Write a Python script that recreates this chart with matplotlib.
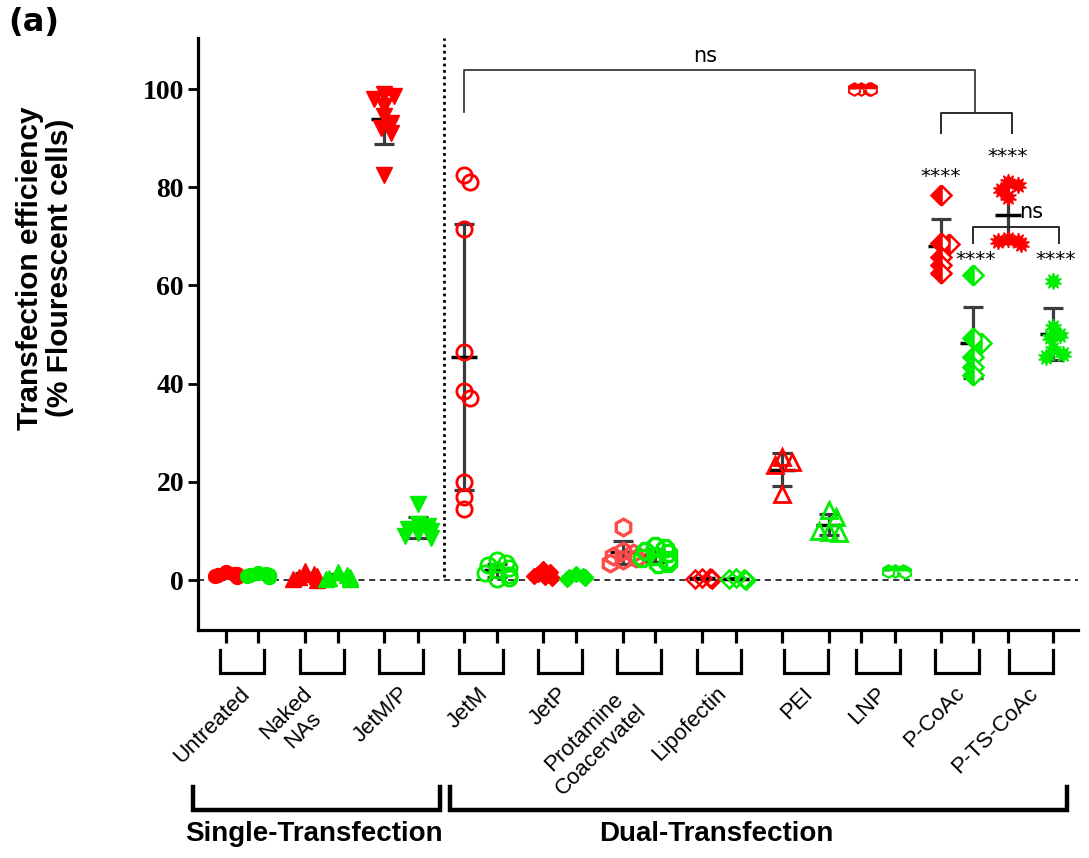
import numpy as np
import matplotlib
matplotlib.use('Agg')
import matplotlib.pyplot as plt
from matplotlib.transforms import blended_transform_factory

# ---------------- data ----------------
groups = ['Untreated', 'Naked\nNAs', 'JetM/P', 'JetM', 'JetP',
          'Protamine\nCoacervatel', 'Lipofectin', 'PEI', 'LNP',
          'P-CoAc', 'P-TS-CoAc']

untreated_red = [1.6, 1.3, 1.1, 1.0, 0.9, 0.8, 1.2, 0.7]
untreated_green = [1.5, 1.2, 1.0, 0.9, 0.8, 1.1, 0.7, 0.6]
naked_red = [1.8, 1.2, 0.6, 0.3, 0.1, 0.8]
naked_green = [1.6, 1.0, 0.5, 0.3, 0.2, 0.7]
jetmp_red = [99, 98.5, 98, 96.5, 94.5, 93, 92, 91, 82.5]
jetmp_green = [15.5, 11.5, 11, 10.5, 10, 9.5, 9, 8.5]
jetm_red = [82.5, 81, 71.5, 46.5, 38.5, 37, 20, 17, 14.5]
jetm_green = [4, 3.5, 3, 2.5, 2, 1.5, 1, 0.5, 0.2]
jetp_red = [2.2, 1.6, 1.2, 0.9, 0.6, 0.4]
jetp_green = [1.3, 0.9, 0.6, 0.4, 0.2, 0.7]
protamine_red = [10.8, 6, 5.5, 5, 4.5, 4, 3.5]
protamine_green = [7, 6.5, 6, 5.5, 5, 4.5, 4, 3.5, 3.2]
lipofectin_red = [0.5, 0.4, 0.3, 0.2]
lipofectin_green = [0.4, 0.3, 0.2, 0.1]
pei_red = [25, 24, 23.5, 17.5]
pei_green = [14.3, 12.8, 9.8, 9.6, 9.9]
lnp_red = [100, 100, 100, 100]
lnp_green = [1.9, 1.8, 1.8, 1.7]
pcoac_red = [78.4, 68.6, 68.4, 65.8, 64.2, 62.5]
pcoac_green = [62.1, 49.3, 48.3, 45.4, 43.4, 41.8]
ptscoac_red = [81, 80.5, 79.5, 78, 69.5, 69, 69, 68.5]
ptscoac_green = [61, 51.5, 50, 49.5, 47, 46, 45.5]

red_values = [untreated_red, naked_red, jetmp_red, jetm_red, jetp_red,
              protamine_red, lipofectin_red, pei_red, lnp_red, pcoac_red,
              ptscoac_red]
green_values = [untreated_green, naked_green, jetmp_green, jetm_green,
                jetp_green, protamine_green, lipofectin_green, pei_green,
                lnp_green, pcoac_green, ptscoac_green]

y_ticks = [0, 20, 40, 60, 80, 100]
section_labels = ['Single-Transfection', 'Dual-Transfection']
star_label = '****'
ns_label = 'ns'

# ---------------- layout / style ----------------
W, H = 1089, 858
red_x = [226, 305, 384, 464, 543, 623, 702, 782, 861, 941, 1008]
green_x = [258, 338, 418, 497, 576, 655, 736, 829, 895, 973, 1053]
RED = '#FF0000'
RED2 = '#FF4A4A'
GREEN = '#00EE00'
BAR = '#3C3C3C'

# (marker, size_pt, fill mode, edge width)
red_style = [('o', 10, 'full', 1), ('^', 11, 'full', 1), ('v', 12, 'full', 1),
             ('o', 11, 'none', 2.0), ('D', 8.5, 'full', 1), ('h', 12, 'none', 2.4),
             ('D', 9, 'none', 1.8), ('^', 12, 'none', 2.0), ('h', 9, 'top', 1.5),
             ('D', 10, 'left', 1.8), ((10, 1, 0), 12, 'full', 1)]
green_style = [('o', 10, 'full', 1), ('^', 11, 'full', 1), ('v', 12, 'full', 1),
               ('o', 11, 'none', 2.0), ('D', 8.5, 'full', 1), ('8', 12, 'none', 2.4),
               ('D', 9, 'none', 1.8), ('^', 12, 'none', 2.0), ('h', 9, 'top', 1.5),
               ('D', 10, 'left', 1.8), ((10, 1, 0), 12, 'full', 1)]

fig = plt.figure(figsize=(W / 100, H / 100), dpi=100)
ax_top, ax_bot, ax_left, ax_right = 38, 630, 198, 1078
ax = fig.add_axes([ax_left / W, 1 - ax_bot / H, (ax_right - ax_left) / W,
                   (ax_bot - ax_top) / H])
ax.set_xlim(ax_left, ax_right)
ymin, ymax = -10.17, 110.4
ax.set_ylim(ymin, ymax)
PPU = (ax_bot - ax_top) / (ymax - ymin)  # pixels per y unit


def swarm(vals, x0, ms_px):
    placed = []
    xs = []
    thr = ms_px * 0.55
    step = ms_px * 0.2
    lim = ms_px * 0.8
    cands = [0.0] + [s * i * step for i in range(1, 10) for s in (1, -1)]
    for v in vals:
        yp = v * PPU
        chosen = cands[-1]
        for c in cands:
            if all(np.hypot(c - px, yp - py) >= thr for px, py in placed):
                chosen = c
                break
        chosen = float(np.clip(chosen, -lim, lim))
        placed.append((chosen, yp))
        xs.append(x0 + chosen)
    return xs


def draw_series(vals, x0, style, color):
    marker, ms, fill, mew = style
    ms_px = ms * 100 / 72
    xs = swarm(vals, x0, ms_px)
    kw = dict(linestyle='none', marker=marker, markersize=ms,
              markeredgecolor=color, markeredgewidth=mew, zorder=3)
    if fill == 'full':
        kw.update(markerfacecolor=color)
    elif fill == 'none':
        kw.update(markerfacecolor='none')
    else:
        kw.update(markerfacecolor=color, fillstyle=fill,
                  markerfacecoloralt='white')
    ax.plot(xs, vals, **kw)
    m = np.mean(vals)
    s = np.std(vals, ddof=1)
    ax.plot([x0, x0], [m - s, m + s], color=BAR, lw=2.3, zorder=2,
            solid_capstyle='butt')
    for yv in (m - s, m + s):
        ax.plot([x0 - 10, x0 + 10], [yv, yv], color=BAR, lw=2.3, zorder=2,
                solid_capstyle='butt')
    ax.plot([x0 - 13, x0 + 13], [m, m], color='black', lw=2.5, zorder=2.5,
            solid_capstyle='butt')


for i in range(len(groups)):
    rc = RED2 if i == 5 else RED
    draw_series(red_values[i], red_x[i], red_style[i], rc)
    draw_series(green_values[i], green_x[i], green_style[i], GREEN)

# reference lines
ax.axhline(0, color='black', lw=1.1, ls=(0, (4, 3)), zorder=1)
ax.plot([444, 444], [0.6, ymax], color='black', lw=2, ls=(0, (1, 1.3)),
        zorder=1, clip_on=False)

# spines & ticks
for sp in ('top', 'right'):
    ax.spines[sp].set_visible(False)
for sp in ('left', 'bottom'):
    ax.spines[sp].set_linewidth(2.3)
all_x = sorted(red_x + green_x)
ax.set_xticks(all_x)
ax.set_xticklabels([''] * len(all_x))
ax.tick_params(axis='x', length=9.5, width=2.3, direction='out')
ax.set_yticks(y_ticks)
ax.set_yticklabels([str(t) for t in y_ticks], fontfamily='Liberation Serif',
                   fontweight='bold', fontsize=20)
ax.tick_params(axis='y', length=7, width=2.0, direction='out', pad=3)

# significance annotations
sc = '#2A2A2A'
ax.plot([red_x[3], red_x[3], 975, 975], [95.3, 103.9, 103.9, 95.1],
        color=sc, lw=1.2, zorder=4)
ax.plot([red_x[9], red_x[9], 1012, 1012], [91.0, 95.1, 95.1, 91.0],
        color=sc, lw=1.4, zorder=4)
ax.text(705, 106.8, ns_label, ha='center', va='center', fontsize=15,
        fontfamily='DejaVu Sans')
ax.plot([green_x[9], green_x[9], 1059, 1059], [68.6, 72, 72, 68.6],
        color=sc, lw=1.4, zorder=4)
ax.text(1019, 75, ns_label, ha='left', va='center', fontsize=15,
        fontfamily='DejaVu Sans', zorder=5)
for (sx, sy) in [(red_x[9], 82.1), (red_x[10], 86.2), (976, 65.2),
                 (1056, 65.2)]:
    ax.text(sx, sy, star_label, ha='center', va='center', fontsize=14.5,
            fontfamily='DejaVu Sans', zorder=5)

# below-axis group brackets and labels
bt = blended_transform_factory(ax.transData, fig.transFigure)


def fy(py):
    return 1 - py / H


for i, g in enumerate(groups):
    c = (red_x[i] + green_x[i]) / 2
    x1, x2 = c - 22, c + 22
    ax.plot([x1, x1, x2, x2], [fy(650), fy(673), fy(673), fy(650)],
            transform=bt, color='black', lw=2.3, clip_on=False,
            solid_joinstyle='miter')
    ax.text(c + 12, fy(683), g, transform=bt, rotation=45, ha='right',
            va='top', multialignment='center', fontsize=16,
            fontfamily='Liberation Sans')

# section brackets
for (x1, x2), lab, tx in zip([(193, 440), (450, 1067)], section_labels,
                             [314, 716]):
    ax.plot([x1, x1, x2, x2], [fy(787), fy(810), fy(810), fy(787)],
            transform=bt, color='black', lw=3.2, clip_on=False,
            solid_joinstyle='miter')
    fig.text(tx / W, fy(834), lab, ha='center', va='center', fontsize=20,
             fontweight='bold', fontfamily='Liberation Sans')

fig.text(45 / W, fy(268), 'Transfection efficiency\n(% Flourescent cells)',
         rotation=90, ha='center', va='center', multialignment='center',
         fontsize=21.5, fontweight='bold', fontfamily='Liberation Sans',
         linespacing=1.1)
fig.text(8 / W, fy(22), '(a)', ha='left', va='center', fontsize=23,
         fontweight='bold', fontfamily='DejaVu Sans')

fig.savefig('out.png', dpi=100)
